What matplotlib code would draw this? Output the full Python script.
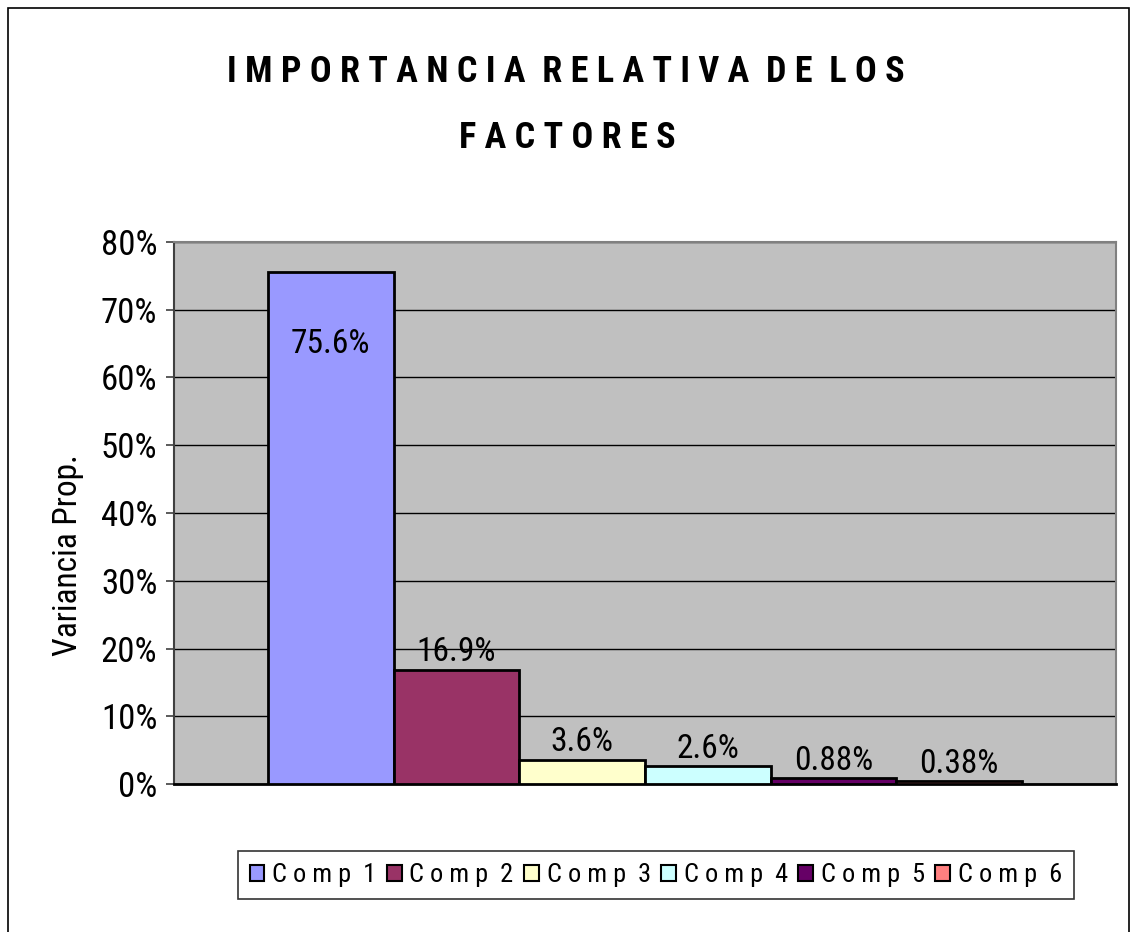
import matplotlib
matplotlib.use("Agg")
import matplotlib.pyplot as plt
from matplotlib import font_manager
from matplotlib.patches import Rectangle, Patch
from matplotlib.ticker import FuncFormatter, MultipleLocator

# ---- data ----
components = ["Comp 1", "Comp 2", "Comp 3", "Comp 4", "Comp 5", "Comp 6"]
variance = [0.756, 0.169, 0.036, 0.026, 0.0088, 0.0038]
value_labels = ["75.6%", "16.9%", "3.6%", "2.6%", "0.88%", "0.38%"]
colors = ["#9999FF", "#993366", "#FFFFCC", "#CCFFFF", "#660066", "#FF8080"]
title_lines = ["IMPORTANCIA RELATIVA DE LOS", "FACTORES"]
ylabel = "Variancia Prop."

# ---- font selection: prefer a condensed sans if one is installed ----
entries = font_manager.fontManager.ttflist
cond_stretches = {"condensed", "semi-condensed", "extra-condensed", "ultra-condensed"}
family_name = "DejaVu Sans"
stretch = "normal"
condensed = False
for pref in ["Liberation Sans Narrow", "Roboto Condensed", "Open Sans Condensed",
             "Noto Sans Condensed", "DejaVu Sans Condensed", "Noto Sans SemiCondensed"]:
    if any(f.name == pref for f in entries):
        family_name, condensed = pref, True
        break
if not condensed:
    for pref in ["DejaVu Sans", "Noto Sans", "Roboto", "Open Sans", "Lato", "Inter"]:
        if any(f.name == pref and str(f.stretch) in cond_stretches for f in entries):
            family_name, stretch, condensed = pref, "condensed", True
            break
scale = 1.0 if condensed else 0.8
fam = [family_name, "DejaVu Sans"]
FP = dict(family=fam, stretch=stretch)


def spaced(s):
    return " ".join(s)


fig = plt.figure(figsize=(11.31, 9.32), dpi=100)
fig.patch.set_facecolor("white")

# outer border
fig.add_artist(Rectangle((8 / 1131, -0.02), 1121 / 1131, 1.02 - 8 / 932,
                         transform=fig.transFigure, fill=False,
                         edgecolor="black", linewidth=1.2))

ax = fig.add_axes([174 / 1131, 1 - 784 / 932, (1116 - 174) / 1131, (784 - 242) / 932])
ax.set_facecolor("#C0C0C0")

x = list(range(len(variance)))
bars = ax.bar(x, variance, width=1.0, color=colors, edgecolor="black",
              linewidth=2, zorder=3)

ax.set_xlim(-1.247, 6.247)
ax.set_ylim(0, 0.8)
ax.yaxis.set_major_locator(MultipleLocator(0.1))
ax.yaxis.set_major_formatter(FuncFormatter(lambda v, p: f"{v*100:.0f}%"))
ax.set_xticks([])
ax.grid(axis="y", color="black", linewidth=1.0, zorder=1)
ax.set_axisbelow(True)

for s in ["top", "right"]:
    ax.spines[s].set_color("#808080")
    ax.spines[s].set_linewidth(1.5)
ax.spines["left"].set_color("#404040")
ax.spines["left"].set_linewidth(1.5)
ax.spines["bottom"].set_color("black")
ax.spines["bottom"].set_linewidth(2)

ax.tick_params(axis="y", direction="out", length=6, width=1.2, color="#404040",
               pad=6, labelsize=25 * scale)
for lbl in ax.get_yticklabels():
    lbl.set_family(fam)
    lbl.set_stretch(stretch)

fig.text(68 / 1131, 1 - 555 / 932, ylabel, rotation=90, ha="center", va="center",
         fontsize=24 * scale, **FP)

# data labels
for i, (b, v, t) in enumerate(zip(bars, variance, value_labels)):
    cx = b.get_x() + b.get_width() / 2
    if i == 0:
        ax.annotate(t, (cx, v), xytext=(0, -52), textcoords="offset points",
                    ha="center", va="center", fontsize=24 * scale, **FP)
    else:
        ax.annotate(t, (cx, v), xytext=(0, 1), textcoords="offset points",
                    ha="center", va="bottom", fontsize=24 * scale, **FP)

# title
tsize = 26 if condensed else 22
fig.text(566 / 1131, 1 - 72 / 932, "  ".join(spaced(w) for w in title_lines[0].split()),
         ha="center", va="center", fontsize=tsize, fontweight="bold", **FP)
fig.text(567 / 1131, 1 - 138 / 932, spaced(title_lines[1]),
         ha="center", va="center", fontsize=tsize, fontweight="bold", **FP)

# legend
handles = [Patch(facecolor=c, edgecolor="black", linewidth=1.5) for c in colors]
leg = fig.legend(handles, [spaced(c.replace(" ", "")[:-1]) + "  " + c[-1] for c in components],
                 loc="center", bbox_to_anchor=(656 / 1131, 1 - 875 / 932),
                 bbox_transform=fig.transFigure, ncol=6, frameon=True, fancybox=False,
                 shadow=False, handlelength=0.55, handleheight=0.55, handletextpad=0.3,
                 columnspacing=0.4, borderpad=0.45,
                 prop={"family": fam, "size": 19 * scale, "stretch": stretch})
leg.get_frame().set_edgecolor("black")
leg.get_frame().set_linewidth(1.2)

fig.savefig("out.png", dpi=100, facecolor="white")
